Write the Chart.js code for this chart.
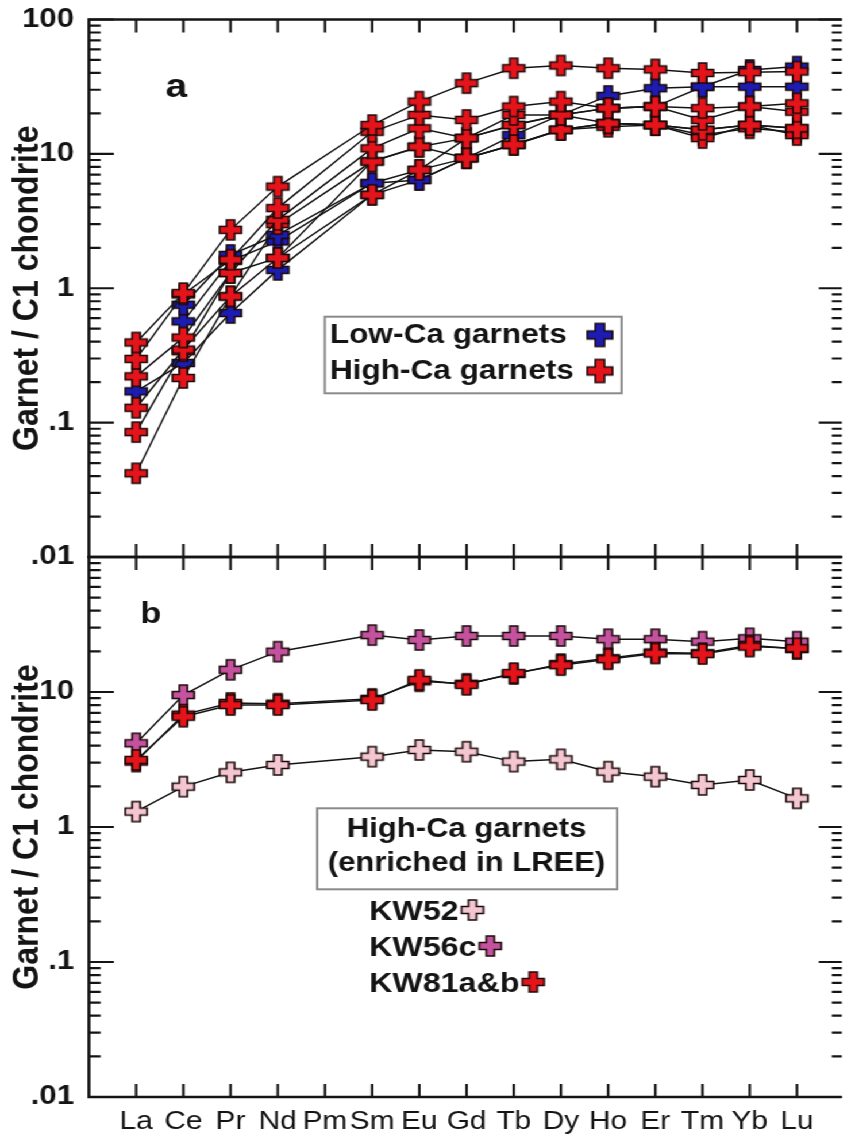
<!DOCTYPE html>
<html>
<head>
<meta charset="utf-8">
<title>REE patterns of garnets</title>
<script src="https://cdn.jsdelivr.net/npm/chart.js@4.4.1/dist/chart.umd.min.js"></script>
<style>
  html, body { margin: 0; padding: 0; background: #fff; overflow: hidden; }
  /* figure is drawn narrow and widened, like the printed plate */
  #stage { position: relative; width: 744px; height: 1142px; transform: scaleX(1.1492); transform-origin: 0 0; }
  #stage canvas { position: absolute; left: 0; }
  #reeA { top: 0; }
  #reeB { top: 540px; }
</style>
</head>
<body>
<div id="stage">
  <canvas id="reeA" width="744" height="580"></canvas>
  <canvas id="reeB" width="744" height="602"></canvas>
</div>
<script>
// rare earth elements on the x axis (Pm has no data)
const ree = ['La', 'Ce', 'Pr', 'Nd', 'Pm', 'Sm', 'Eu', 'Gd', 'Tb', 'Dy', 'Ho', 'Er', 'Tm', 'Yb', 'Lu'];
const decadeTicks = [0.01, 0.1, 1, 10, 100];
const decadeLabels = ['.01', '.1', '1', '10', '100'];

// panel a: chondrite-normalised garnet REE
const hiCa1 = [0.395, 0.92, 2.72, 5.71, null, 16.4, 24.5, 33.6, 43.4, 45.5, 43.4, 42.5, 40.0, 40.5, 41.0];
const hiCa2 = [0.298, 0.90, 1.63, 3.95, null, 14.6, 19.5, 17.9, 22.5, 24.5, 21.9, 22.5, 21.9, 22.5, 23.8];
const hiCa3 = [0.221, 0.43, 1.30, 3.23, null, 11.0, 15.5, 13.1, 19.5, 19.5, 21.9, 22.5, 17.9, 22.5, 20.6];
const hiCa4 = [0.129, 0.35, 0.87, 3.00, null, 8.77, 11.3, 13.1, 16.4, 19.5, 16.9, 16.4, 15.1, 16.4, 15.5];
const hiCa5 = [0.085, 0.34, 1.30, 1.68, null, 8.8, 11.3, 9.3, 11.7, 15.1, 16.9, 16.4, 13.1, 16.4, 13.8];
const hiCa6 = [0.042, 0.215, 0.87, 1.68, null, 4.96, 7.6, 9.3, 11.7, 15.1, 15.9, 16.4, 13.8, 15.5, 14.5];
const loCa1 = [null, 0.754, 1.77, 2.50, null, 6.05, 6.4, 9.3, 13.8, 19.5, 27.0, 30.8, 31.6, 42.1, 44.6];
const loCa2 = [null, 0.567, 1.60, 2.23, null, 6.05, 7.6, 13.1, 16.4, 19.5, 21.9, 22.5, 31.6, 31.6, 31.6];
const loCa3 = [0.171, 0.278, 0.654, 1.37, null, 4.96, 6.4, 9.3, 11.7, 15.1, 16.9, 16.4, 15.1, 16.4, 15.5];

// panel b: high-Ca garnets enriched in LREE
const kw52 = [1.30, 1.99, 2.54, 2.88, null, 3.32, 3.72, 3.61, 3.05, 3.17, 2.57, 2.36, 2.05, 2.23, 1.63];
const kw56c = [4.17, 9.50, 14.6, 19.9, null, 26.4, 24.3, 26.0, 26.0, 26.0, 24.6, 24.6, 23.6, 25.0, 23.6];
const kw81a = [3.14, 6.56, 8.01, 8.01, null, 8.72, 12.3, 11.3, 13.8, 15.8, 17.5, 19.3, 19.1, 21.7, 21.1];
const kw81b = [3.05, 6.80, 8.30, 8.20, null, 8.90, 12.0, 11.5, 13.6, 16.1, 17.8, 19.6, 19.4, 22.2, 20.8];

const FONT = "'Liberation Sans', Arial, Helvetica, sans-serif";
const INK = '#141414';
const RED = '#e5141b';
const BLUE = '#1c1cb2';
const PINK = '#f4c6d1';
const MAGENTA = '#c5529f';

// greek-cross marker with dark outline
function plusMarker(fill, w, h, arm) {
  const c = document.createElement('canvas');
  c.width = w + 4;
  c.height = h + 4;
  const g = c.getContext('2d');
  const cx = c.width / 2, cy = c.height / 2;
  const a = arm / 2, hw = w / 2, hh = h / 2;
  g.beginPath();
  g.moveTo(cx - a, cy - hh); g.lineTo(cx + a, cy - hh); g.lineTo(cx + a, cy - a);
  g.lineTo(cx + hw, cy - a); g.lineTo(cx + hw, cy + a); g.lineTo(cx + a, cy + a);
  g.lineTo(cx + a, cy + hh); g.lineTo(cx - a, cy + hh); g.lineTo(cx - a, cy + a);
  g.lineTo(cx - hw, cy + a); g.lineTo(cx - hw, cy - a); g.lineTo(cx - a, cy - a);
  g.closePath();
  g.fillStyle = fill;
  g.fill();
  g.lineWidth = 1.6;
  g.strokeStyle = '#1a0808';
  g.stroke();
  return c;
}

const mRed = plusMarker(RED, 19, 20, 7);
const mBlue = plusMarker(BLUE, 19, 20, 7);
const mPink = plusMarker(PINK, 19, 20, 7);
const mMagenta = plusMarker(MAGENTA, 19, 20, 7);
const mRedBig = plusMarker(RED, 22, 23, 8);
const mBlueBig = plusMarker(BLUE, 22, 23, 8);

const toPoints = values => values
  .map((v, i) => (v == null ? null : { x: i, y: v }))
  .filter(Boolean);

const series = (label, values, marker) => ({
  label,
  data: toPoints(values),
  borderColor: INK,
  borderWidth: 1.5,
  pointStyle: marker,
  pointRadius: 10,
  pointHoverRadius: 10,
  tension: 0,
  fill: false,
});

const xScale = show => ({
  type: 'linear',
  min: -1,
  max: 14.95,
  display: show,
  grid: { display: false, drawTicks: false },
  border: { display: false },
  afterBuildTicks: s => { s.ticks = ree.map((_, i) => ({ value: i })); },
  afterFit: s => {
    s.height = show ? 45 : 0;
    s.paddingLeft = 0;
    s.paddingRight = 0;
  },
  ticks: {
    autoSkip: false,
    maxRotation: 0,
    minRotation: 0,
    padding: 9,
    color: INK,
    font: { family: FONT, size: 26 },
    callback: v => ree[v],
  },
});

const yScale = hideTop => ({
  type: 'logarithmic',
  min: 0.01,
  max: 100,
  position: 'left',
  grid: { display: false, drawTicks: false },
  border: { display: false },
  afterBuildTicks: s => { s.ticks = decadeTicks.map(v => ({ value: v, major: true })); },
  afterFit: s => {
    s.width = 77.4;
    s.paddingTop = 0;
    s.paddingBottom = 0;
  },
  ticks: {
    autoSkip: false,
    padding: 13,
    color: INK,
    font: { family: FONT, size: 27, weight: 'bold' },
    callback: (v, i) => (hideTop && i === decadeTicks.length - 1 ? '' : decadeLabels[i]),
  },
  title: {
    display: true,
    text: 'Garnet / C1 chondrite',
    color: INK,
    font: { family: FONT, size: 32, weight: 'bold' },
    padding: { top: 5, bottom: 0 },
  },
});

// box frame with inward log ticks on both sides and element ticks top and bottom
const frameTicks = {
  id: 'frameTicks',
  beforeDatasetsDraw(chart) {
    const { ctx, chartArea: { left, right, top, bottom }, scales: { x, y } } = chart;
    ctx.save();
    ctx.strokeStyle = INK;
    ctx.lineWidth = 2.2;
    ctx.beginPath();
    decadeTicks.forEach(d => {
      for (let m = 1; m <= 9; m++) {
        if (d === 100 && m > 1) break;
        const py = y.getPixelForValue(d * m);
        const major = m === 1;
        ctx.moveTo(left, py); ctx.lineTo(left + (major ? 21.7 : 10.2), py);
        ctx.moveTo(right, py); ctx.lineTo(right - (major ? 20 : 8.7), py);
      }
    });
    ree.forEach((_, i) => {
      const px = x.getPixelForValue(i);
      ctx.moveTo(px, top); ctx.lineTo(px, top + 13);
      ctx.moveTo(px, bottom); ctx.lineTo(px, bottom - 13);
    });
    ctx.stroke();
    ctx.lineWidth = 2.6;
    ctx.beginPath();
    ctx.moveTo(right, top); ctx.lineTo(left, top); ctx.lineTo(left, bottom); ctx.lineTo(right, bottom);
    ctx.stroke();
    ctx.restore();
  },
};

const legendA = ['Low-Ca garnets', 'High-Ca garnets'];
const legendB = ['High-Ca garnets', '(enriched in LREE)'];
const sampleNames = ['KW52', 'KW56c', 'KW81a&b'];

const notesA = {
  id: 'notesA',
  afterDraw(chart) {
    const { ctx } = chart;
    ctx.save();
    ctx.fillStyle = INK;
    ctx.font = `bold 34px ${FONT}`;
    ctx.fillText('a', 144, 97);
    ctx.fillStyle = '#fff';
    ctx.fillRect(282.6, 316.7, 258.3, 76.6);
    ctx.strokeStyle = '#8a8a8a';
    ctx.lineWidth = 2;
    ctx.strokeRect(282.6, 316.7, 258.3, 76.6);
    ctx.fillStyle = INK;
    ctx.font = `bold 27.5px ${FONT}`;
    ctx.fillText(legendA[0], 287, 343);
    ctx.fillText(legendA[1], 287, 379);
    ctx.drawImage(mBlueBig, 522 - mBlueBig.width / 2, 335 - mBlueBig.height / 2);
    ctx.drawImage(mRedBig, 522 - mRedBig.width / 2, 371 - mRedBig.height / 2);
    ctx.restore();
  },
};

const notesB = {
  id: 'notesB',
  afterDraw(chart) {
    const { ctx } = chart;
    ctx.save();
    ctx.fillStyle = INK;
    ctx.font = `bold 30px ${FONT}`;
    ctx.fillText('b', 122, 83);
    ctx.fillStyle = '#fff';
    ctx.fillRect(276, 268.3, 261, 81);
    ctx.strokeStyle = '#8a8a8a';
    ctx.lineWidth = 2;
    ctx.strokeRect(276, 268.3, 261, 81);
    ctx.fillStyle = INK;
    ctx.textAlign = 'center';
    ctx.font = `bold 27px ${FONT}`;
    ctx.fillText(legendB[0], 406, 297);
    ctx.fillText(legendB[1], 406, 331);
    ctx.textAlign = 'left';
    ctx.font = `bold 28px ${FONT}`;
    const marks = [mPink, mMagenta, mRed];
    sampleNames.forEach((name, i) => {
      const base = 380 + i * 36;
      ctx.fillText(name, 321.3, base);
      const end = 321.3 + ctx.measureText(name).width;
      const m = marks[i];
      ctx.drawImage(m, end + 12 - m.width / 2, base - 10 - m.height / 2);
    });
    ctx.restore();
  },
};

const baseOptions = (xShow, hideTop, padding) => ({
  responsive: false,
  animation: false,
  devicePixelRatio: 1,
  layout: { padding },
  plugins: { legend: { display: false }, tooltip: { enabled: false } },
  scales: { x: xScale(xShow), y: yScale(hideTop) },
});

new Chart(document.getElementById('reeA'), {
  type: 'line',
  data: {
    datasets: [
      series('High-Ca 1', hiCa1, mRed),
      series('High-Ca 2', hiCa2, mRed),
      series('High-Ca 3', hiCa3, mRed),
      series('High-Ca 4', hiCa4, mRed),
      series('High-Ca 5', hiCa5, mRed),
      series('High-Ca 6', hiCa6, mRed),
      series('Low-Ca 1', loCa1, mBlue),
      series('Low-Ca 2', loCa2, mBlue),
      series('Low-Ca 3', loCa3, mBlue),
    ],
  },
  options: baseOptions(false, false, { top: 19.5, bottom: 23, left: 0, right: 0 }),
  plugins: [frameTicks, notesA],
});

new Chart(document.getElementById('reeB'), {
  type: 'line',
  data: {
    datasets: [
      series('KW81a', kw81a, mRed),
      series('KW81b', kw81b, mRed),
      series('KW56c', kw56c, mMagenta),
      series('KW52', kw52, mPink),
    ],
  },
  options: baseOptions(true, true, { top: 17, bottom: 0, left: 0, right: 0 }),
  plugins: [frameTicks, notesB],
});
</script>
</body>
</html>
